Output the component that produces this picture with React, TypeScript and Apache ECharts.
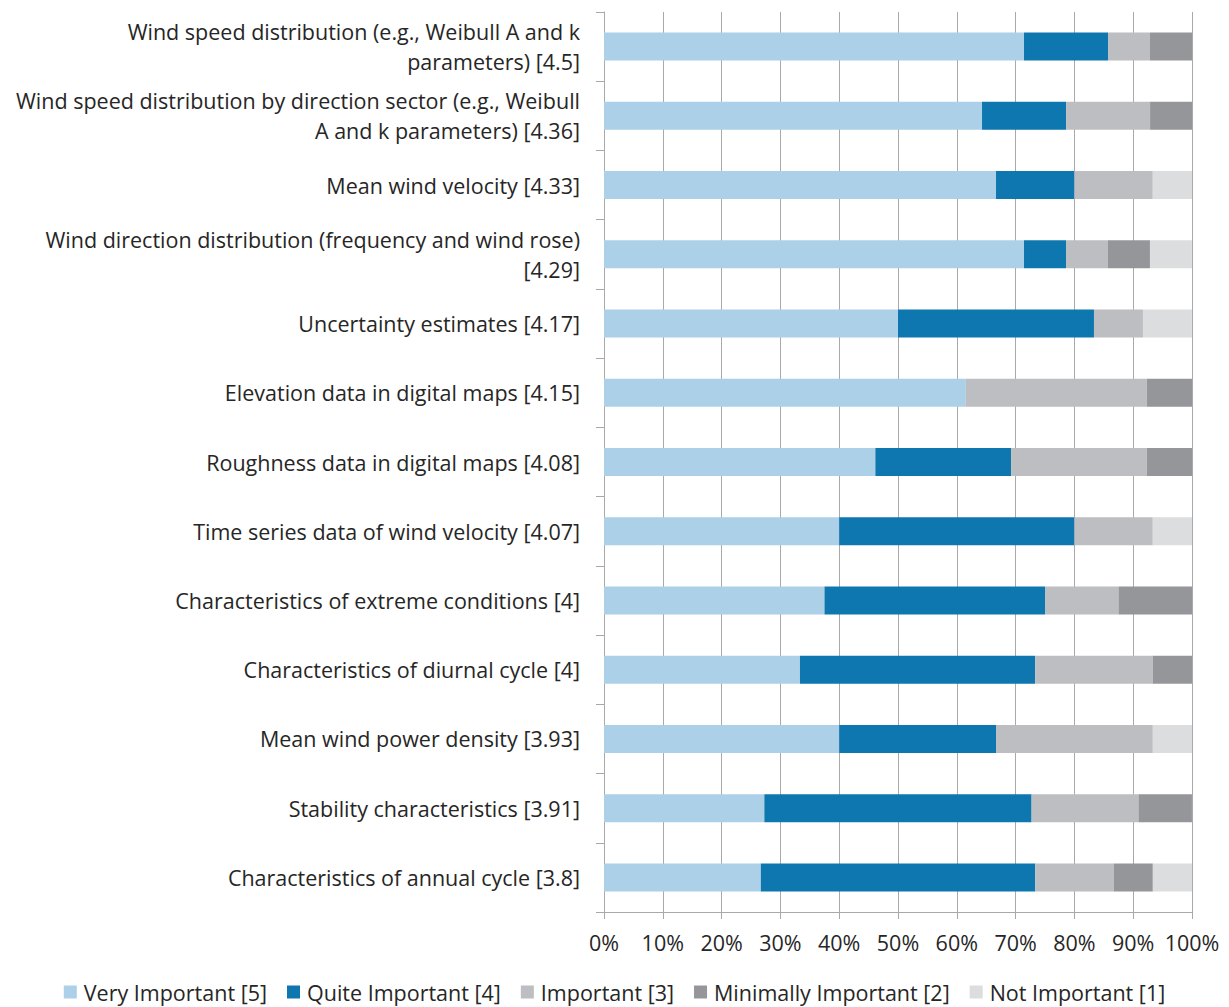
import React, { useEffect, useRef } from "react";
import * as echarts from "echarts";

// Survey items, each with its mean importance score
const categories: string[] = [
  "Wind speed distribution (e.g., Weibull A and k\nparameters) [4.5]",
  "Wind speed distribution by direction sector (e.g., Weibull\nA and k parameters) [4.36]",
  "Mean wind velocity [4.33]",
  "Wind direction distribution (frequency and wind rose)\n[4.29]",
  "Uncertainty estimates [4.17]",
  "Elevation data in digital maps [4.15]",
  "Roughness data in digital maps [4.08]",
  "Time series data of wind velocity [4.07]",
  "Characteristics of extreme conditions [4]",
  "Characteristics of diurnal cycle [4]",
  "Mean wind power density [3.93]",
  "Stability characteristics [3.91]",
  "Characteristics of annual cycle [3.8]",
];

// Share of responses (%) per rating
const veryImportant: number[] = [71.43, 64.29, 66.67, 71.43, 50, 61.54, 46.15, 40, 37.5, 33.33, 40, 27.27, 26.67];
const quiteImportant: number[] = [14.29, 14.29, 13.33, 7.14, 33.33, 0, 23.08, 40, 37.5, 40, 26.67, 45.45, 46.67];
const important: number[] = [7.14, 14.29, 13.33, 7.14, 8.33, 30.77, 23.08, 13.33, 12.5, 20, 26.67, 18.18, 13.33];
const minimallyImportant: number[] = [7.14, 7.14, 0, 7.14, 0, 7.69, 7.69, 0, 12.5, 6.67, 0, 9.09, 6.67];
const notImportant: number[] = [0, 0, 6.67, 7.14, 8.33, 0, 0, 6.67, 0, 0, 6.67, 0, 6.67];

const seriesNames: string[] = [
  "Very Important [5]",
  "Quite Important [4]",
  "Important [3]",
  "Minimally Important [2]",
  "Not Important [1]",
];
const seriesColors: string[] = ["#abd0e8", "#0e77af", "#bdbec1", "#959699", "#dcdddf"];

const FONT = "'Open Sans', 'Noto Sans', sans-serif";
const FONT_SIZE = 21.5;
const TEXT = "#262626";
const LINE = "#a9a9a9";

export default function App() {
  const ref = useRef<HTMLDivElement>(null);

  useEffect(() => {
    if (!ref.current) return;
    const chart = echarts.init(ref.current, undefined, { renderer: "svg" });
    const values = [veryImportant, quiteImportant, important, minimallyImportant, notImportant];

    chart.setOption({
      animation: false,
      backgroundColor: "#ffffff",
      textStyle: { fontFamily: FONT, color: TEXT },
      grid: { left: 604, right: 37, top: 12, bottom: 95, containLabel: false },
      legend: {
        top: 976,
        left: "center",
        itemWidth: 13,
        itemHeight: 13,
        itemGap: 20,
        icon: "rect",
        textStyle: { fontFamily: FONT, fontSize: FONT_SIZE, color: TEXT, padding: [0, 0, 0, 2] },
        data: seriesNames,
      },
      xAxis: {
        type: "value",
        min: 0,
        max: 100,
        interval: 10,
        axisLine: { show: true, lineStyle: { color: LINE, width: 1 } },
        axisTick: { show: true, length: 7, lineStyle: { color: LINE } },
        splitLine: { show: true, lineStyle: { color: LINE, width: 1 } },
        axisLabel: {
          formatter: "{value}%",
          fontFamily: FONT,
          fontSize: FONT_SIZE,
          color: TEXT,
          margin: 19,
        },
      },
      yAxis: {
        type: "category",
        inverse: true,
        data: categories,
        axisLine: { show: true, lineStyle: { color: LINE, width: 1 } },
        axisTick: { show: true, length: 8, lineStyle: { color: LINE } },
        axisLabel: {
          fontFamily: FONT,
          fontSize: FONT_SIZE,
          color: TEXT,
          align: "right",
          margin: 24,
          lineHeight: 30,
        },
      },
      series: seriesNames.map((name, i) => ({
        name,
        type: "bar",
        stack: "total",
        barWidth: 28,
        itemStyle: { color: seriesColors[i] },
        data: values[i],
      })),
    });

    return () => chart.dispose();
  }, []);

  return (
    <div
      ref={ref}
      style={{ position: "fixed", left: 0, top: 0, width: 1229, height: 1007, background: "#fff" }}
    />
  );
}
